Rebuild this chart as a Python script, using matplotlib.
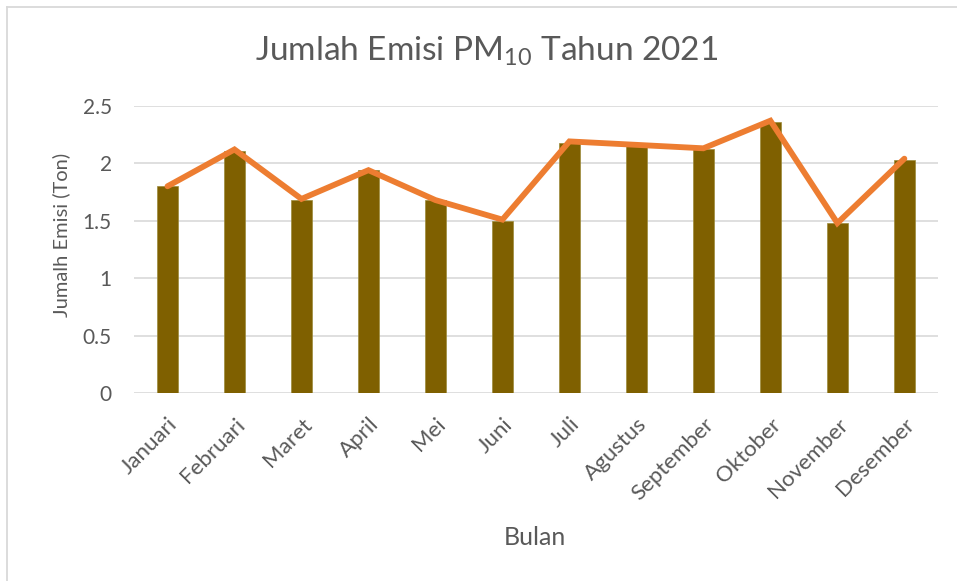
import numpy as np
import matplotlib as mpl
mpl.use("Agg")
import matplotlib.pyplot as plt
from matplotlib.lines import Line2D

plt.rcParams.update({"font.family": ["Lato", "DejaVu Sans"], "text.color": "#595959",
                     "mathtext.fontset": "custom", "mathtext.rm": "Lato"})

# ---- data ----
bulan = ["Januari", "Februari", "Maret", "April", "Mei", "Juni", "Juli",
         "Agustus", "September", "Oktober", "November", "Desember"]
emisi_bar = [1.80, 2.11, 1.68, 1.94, 1.68, 1.50, 2.18, 2.15, 2.12, 2.36, 1.48, 2.03]
emisi_line = [1.80, 2.12, 1.69, 1.94, 1.68, 1.51, 2.19, 2.16, 2.13, 2.37, 1.48, 2.04]
yticks = [0, 0.5, 1, 1.5, 2, 2.5]

GRAY = "#595959"
fig = plt.figure(figsize=(9.57, 5.81), dpi=100)
ax = fig.add_axes([0.140, 0.323, 0.840, 0.495])

x = np.arange(len(bulan))
ax.bar(x, emisi_bar, width=0.31, color="#7F6000", edgecolor="#9C8A3A", linewidth=0.5, zorder=2)
ax.plot(x, emisi_line, color="#ED7D31", linewidth=4.2, solid_capstyle="round",
        solid_joinstyle="miter", zorder=3)

ax.set_xlim(-0.5, len(bulan) - 0.5)
ax.set_ylim(0, 2.5)
ax.set_yticks(yticks)
ax.set_yticklabels([f"{v:g}" for v in yticks], fontsize=15, color=GRAY)
ax.set_xticks(x)
ax.set_xticklabels(bulan, rotation=45, ha="right", rotation_mode="anchor", fontsize=16, color=GRAY)
ax.tick_params(axis="x", length=0, pad=15)
ax.tick_params(axis="y", length=0, pad=16)
ax.grid(axis="y", color="#D9D9D9", linewidth=1.2, zorder=0)
ax.set_axisbelow(True)
for s in ax.spines.values():
    s.set_visible(False)

ax.set_ylabel("Jumalh Emisi (Ton)", fontsize=14.5, color=GRAY)
ax.yaxis.set_label_coords(-0.080, 0.55)
fig.text(0.559, 0.075, "Bulan", ha="center", va="center", fontsize=18, color=GRAY)
fig.text(0.508, 0.912, r"Jumlah Emisi PM$_{10}$ Tahun 2021", ha="center", va="center",
         fontsize=24, color=GRAY)

# chart-area border (only top and left visible)
fig.add_artist(Line2D([0.0073, 1.0], [1 - 7 / 581, 1 - 7 / 581], color="#D9D9D9", linewidth=1.3))
fig.add_artist(Line2D([0.0073, 0.0073], [0.0, 1 - 7 / 581], color="#D9D9D9", linewidth=1.3))

fig.savefig("out.png", dpi=100)
